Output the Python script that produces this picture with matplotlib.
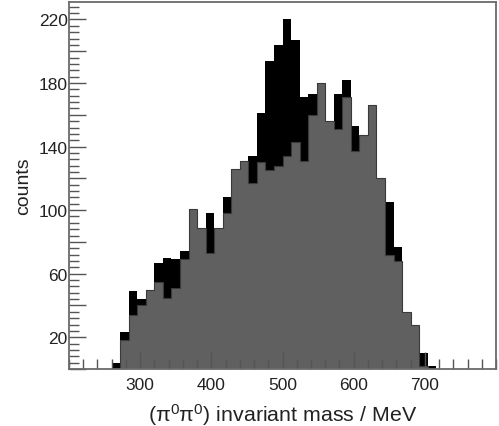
import numpy as np
import matplotlib
matplotlib.use("Agg")
import matplotlib.pyplot as plt
from matplotlib.ticker import MultipleLocator, FixedLocator, FuncFormatter

plt.rcParams['font.family'] = ['Liberation Sans', 'DejaVu Sans']
plt.rcParams['mathtext.fontset'] = 'custom'
plt.rcParams['mathtext.rm'] = 'Liberation Sans'
plt.rcParams['mathtext.it'] = 'Liberation Sans'

# Histogram data: 12 MeV bins starting at 260 MeV
bin_start = 260
bin_width = 12
total_counts = [4, 23, 49, 44, 50, 67, 70, 69, 74, 101, 89, 98, 89, 108, 126, 131,
                134, 161, 194, 204, 220, 207, 171, 173, 180, 156, 173, 182, 153, 147,
                166, 120, 105, 77, 36, 28, 10, 2]
subset_counts = [0, 18, 34, 40, 50, 55, 45, 51, 69, 101, 89, 73, 89, 98, 126, 131,
                 117, 130, 125, 128, 134, 143, 131, 160, 180, 156, 151, 171, 137, 147,
                 166, 120, 72, 68, 36, 28, 2, 0]
x_tick_labels = [300, 400, 500, 600, 700]
y_tick_labels = [20, 60, 100, 140, 180, 220]

edges = bin_start + bin_width * np.arange(len(total_counts) + 1)

fig = plt.figure(figsize=(4.99, 4.27), dpi=100)
ax = fig.add_axes([69 / 499, 1 - 370 / 427, (496 - 69) / 499, (370 - 3) / 427])

ax.stairs(total_counts, edges, fill=True, color='black', linewidth=0)
ax.stairs(subset_counts, edges, fill=True, color='#606060', linewidth=0)
ax.stairs(subset_counts, edges, fill=False, color='#3a3a3a', linewidth=0.8)

ax.set_xlim(200, 800)
ax.set_ylim(0, 231)

ax.xaxis.set_major_locator(FixedLocator(x_tick_labels))
ax.xaxis.set_minor_locator(MultipleLocator(20))
ax.yaxis.set_major_locator(MultipleLocator(20))
ax.yaxis.set_minor_locator(MultipleLocator(4))
ax.yaxis.set_major_formatter(FuncFormatter(
    lambda v, p: f"{int(round(v))}" if int(round(v)) in y_tick_labels else ""))

ax.tick_params(which='both', direction='in', top=False, right=False,
               color='#555555', labelcolor='#222222', labelsize=12.5)
ax.tick_params(which='major', length=12, width=1.0)
ax.tick_params(which='minor', length=7, width=1.0)
ax.tick_params(axis='x', pad=6)
ax.tick_params(axis='y', pad=1)

for s in ax.spines.values():
    s.set_color('#6a6a6a')
    s.set_linewidth(1.3)

ax.set_xlabel(r"(π$^0$π$^0$) invariant mass / MeV", fontsize=15.4, color='#222222', labelpad=6)
ax.set_ylabel("counts", fontsize=14, color='#222222', labelpad=5)

fig.savefig("out.png", dpi=100)
